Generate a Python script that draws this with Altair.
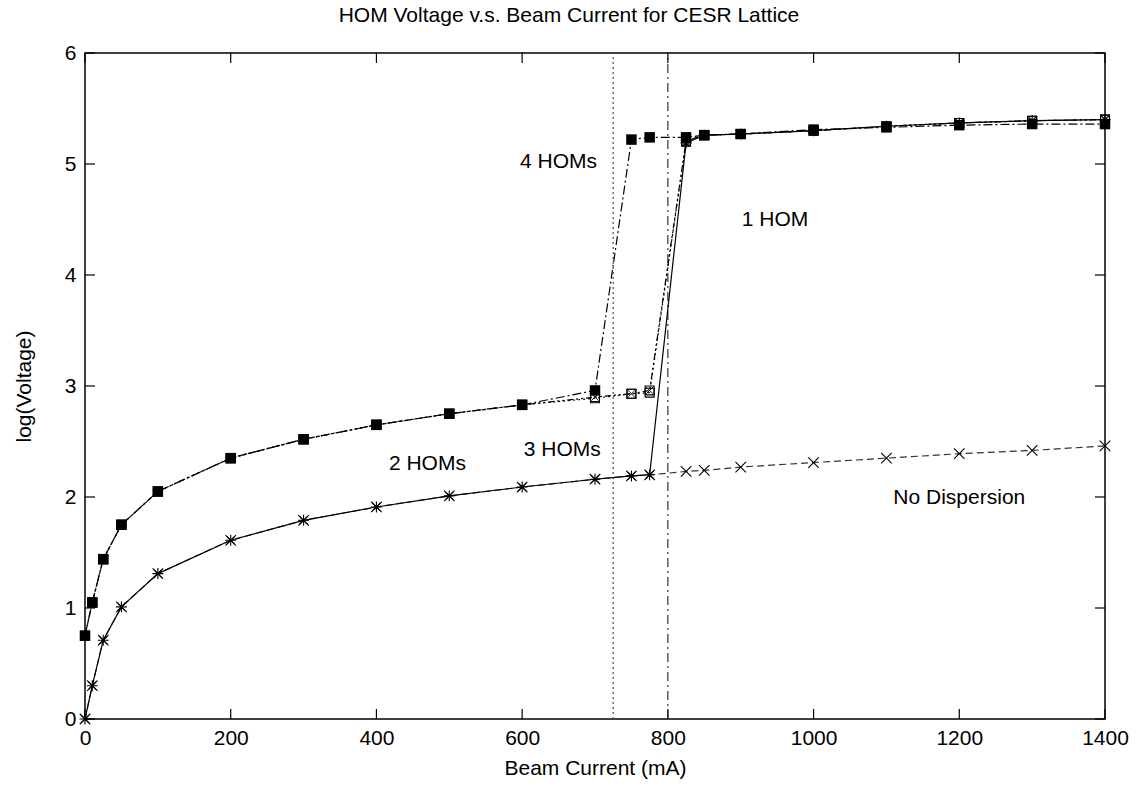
import altair as alt
import pandas as pd

# ---------------- data ----------------
currents = [0, 10, 25, 50, 100, 200, 300, 400, 500, 600, 700, 750, 775,
            825, 850, 900, 1000, 1100, 1200, 1300, 1400]

one_hom = [0.00, 0.30, 0.71, 1.01, 1.31, 1.61, 1.79, 1.91, 2.01, 2.09, 2.16, 2.19, 2.20,
           5.19, 5.26, 5.27, 5.30, 5.34, 5.37, 5.39, 5.40]
no_disp = [0.00, 0.30, 0.71, 1.01, 1.31, 1.61, 1.79, 1.91, 2.01, 2.09, 2.16, 2.19, 2.20,
           2.23, 2.24, 2.27, 2.31, 2.35, 2.39, 2.42, 2.46]
four_homs = [0.75, 1.05, 1.44, 1.75, 2.05, 2.35, 2.52, 2.65, 2.75, 2.83, 2.96, 5.22, 5.24,
             5.24, 5.26, 5.27, 5.31, 5.33, 5.35, 5.36, 5.36]
two_homs = [0.75, 1.05, 1.44, 1.75, 2.05, 2.35, 2.52, 2.65, 2.75, 2.83, 2.89, 2.93, 2.94,
            5.20, 5.26, 5.27, 5.30, 5.34, 5.37, 5.39, 5.40]
three_homs = [0.75, 1.05, 1.44, 1.75, 2.05, 2.35, 2.52, 2.65, 2.75, 2.83, 2.90, 2.93, 2.96,
              5.21, 5.26, 5.27, 5.30, 5.34, 5.37, 5.39, 5.40]

thresholds_dotted = [725]
thresholds_dashdot = [800]

label_text = ["4 HOMs", "1 HOM", "3 HOMs", "2 HOMs", "No Dispersion"]
label_x = [650, 947, 655, 470, 1200]
label_y = [5.02, 4.50, 2.42, 2.30, 1.99]

x_ticks = [0, 200, 400, 600, 800, 1000, 1200, 1400]
y_ticks = [0, 1, 2, 3, 4, 5, 6]

# ---------------- layout ----------------
W, H = 1020, 666
XMAX, YMAX = 1400, 6
FONT = "Liberation Sans"
FS = 21

xs = alt.Scale(domain=[0, XMAX], nice=False, zero=False)
ys = alt.Scale(domain=[0, YMAX], nice=False, zero=False)

XAX = alt.Axis(values=x_ticks, format="d", tickSize=0, domain=False, grid=False,
               labelPadding=8, labelFont=FONT, labelFontSize=FS,
               labelColor="black", titleFont=FONT, titleFontSize=FS,
               titleFontWeight="normal", titleColor="black",
               titlePadding=9, labelFlush=False)
YAX = alt.Axis(values=y_ticks, format="d", tickSize=0, domain=False, grid=False,
               labelPadding=9, labelFont=FONT, labelFontSize=FS,
               labelColor="black", titleFont=FONT, titleFontSize=FS,
               titleFontWeight="normal", titleColor="black",
               titlePadding=30, labelFlush=False)
XT = "Beam Current (mA)"
YT = "log(Voltage)"

STAR = "M-1,0L1,0M0,-1L0,1M-0.72,-0.72L0.72,0.72M-0.72,0.72L0.72,-0.72"
XMARK = "M-1,-1L1,1M-1,1L1,-1"


def xenc(field="x"):
    return alt.X(f"{field}:Q", scale=xs, axis=XAX, title=XT)


def yenc(field="y"):
    return alt.Y(f"{field}:Q", scale=ys, axis=YAX, title=YT)


def xdat(v):
    return alt.XDatum(v, scale=xs, axis=XAX, title=XT, type="quantitative")


def ydat(v):
    return alt.YDatum(v, scale=ys, axis=YAX, title=YT, type="quantitative")


# inward tick marks (gnuplot style, mirrored)
TLX = 10 / W * XMAX
TLY = 10 / H * YMAX
tick_layers = []
for xv in x_ticks:
    tick_layers.append(alt.Chart(pd.DataFrame({"x": [xv]})).mark_rule(
        color="black", strokeWidth=1.2).encode(x=xenc(), y=ydat(0), y2=alt.datum(TLY)))
    tick_layers.append(alt.Chart(pd.DataFrame({"x": [xv]})).mark_rule(
        color="black", strokeWidth=1.2).encode(x=xenc(), y=ydat(YMAX), y2=alt.datum(YMAX - TLY)))
for yv in y_ticks:
    tick_layers.append(alt.Chart(pd.DataFrame({"y": [yv]})).mark_rule(
        color="black", strokeWidth=1.2).encode(y=yenc(), x=xdat(0), x2=alt.datum(TLX)))
    tick_layers.append(alt.Chart(pd.DataFrame({"y": [yv]})).mark_rule(
        color="black", strokeWidth=1.2).encode(y=yenc(), x=xdat(XMAX), x2=alt.datum(XMAX - TLX)))

# threshold vertical lines
vdot = alt.Chart(pd.DataFrame({"x": thresholds_dotted})).mark_rule(
    color="#555555", strokeWidth=1.3, strokeDash=[2, 3]).encode(
    x=xenc(), y=ydat(0), y2=alt.datum(YMAX))
vdd = alt.Chart(pd.DataFrame({"x": thresholds_dashdot})).mark_rule(
    color="#222222", strokeWidth=1.1, strokeDash=[9, 4, 2, 4]).encode(
    x=xenc(), y=ydat(0), y2=alt.datum(YMAX))


def series(vals, dash, shape, filled, size, color="black", sw=1.2, extra_shape=None):
    df = pd.DataFrame({"x": currents, "y": vals})
    base = alt.Chart(df)
    line_kwargs = dict(color=color, strokeWidth=sw)
    if dash:
        line_kwargs["strokeDash"] = dash
    out = [base.mark_line(**line_kwargs).encode(x=xenc(), y=yenc())]
    out.append(base.mark_point(shape=shape, filled=filled, size=size,
                               color="black", strokeWidth=1.1, opacity=1)
               .encode(x=xenc(), y=yenc()))
    if extra_shape:
        out.append(base.mark_point(shape=extra_shape, filled=False, size=size * 0.6,
                                   color="black", strokeWidth=0.9, opacity=1)
                   .encode(x=xenc(), y=yenc()))
    return out


layers = tick_layers + [vdot, vdd]
layers += series(no_disp, [7, 4], XMARK, False, 110, color="#333333")
layers += series(three_homs, [6, 3, 2, 3, 2, 3], "square", False, 80, extra_shape=XMARK)
layers += series(two_homs, [2, 3], "square", False, 80)
layers += series(four_homs, [9, 3, 2, 3], "square", True, 110)
layers += series(one_hom, None, STAR, False, 120)

lab_df = pd.DataFrame({"t": label_text, "x": label_x, "y": label_y})
labels = alt.Chart(lab_df).mark_text(font=FONT, fontSize=FS, color="black",
                                     align="center", baseline="middle").encode(
    x=xenc(), y=yenc(), text="t:N")
layers.append(labels)

chart = alt.layer(*layers).properties(
    width=W, height=H,
    background="white",
    title=alt.Title("HOM Voltage v.s. Beam Current for CESR Lattice",
                    font=FONT, fontSize=FS, fontWeight="normal", color="black",
                    anchor="middle", offset=16, dx=-26),
    autosize=alt.AutoSizeParams(type="none"),
    padding={"left": 85, "top": 53, "right": 33, "bottom": 70},
).configure_view(stroke="black", strokeWidth=1.5)

chart.save("out.html", embed_options={"renderer": "svg", "actions": False})
